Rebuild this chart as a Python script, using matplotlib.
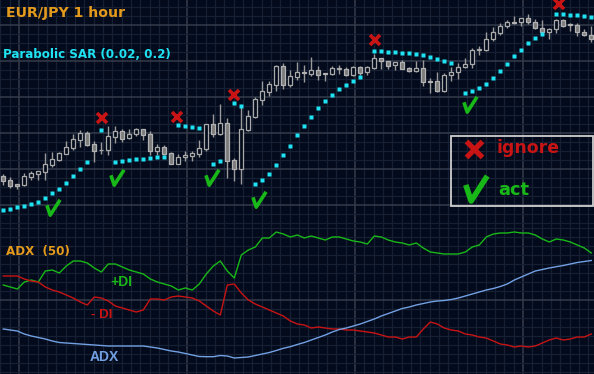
import numpy as np
import matplotlib
matplotlib.use('Agg')
import matplotlib.pyplot as plt
from matplotlib.patches import Rectangle
from matplotlib.lines import Line2D
from matplotlib.path import Path

# ---------------- data ----------------
opens = [133.24,133.20,133.16,133.15,133.23,133.26,133.28,133.35,133.40,133.46,
         133.52,133.60,133.67,133.56,133.50,133.50,133.63,133.69,133.62,133.66,
         133.71,133.66,133.49,133.53,133.47,133.36,133.43,133.44,133.46,133.51,
         133.76,133.66,133.77,133.40,133.31,133.70,133.83,134.00,134.08,134.15,
         134.34,134.15,134.23,134.28,134.26,134.30,134.27,134.26,134.31,134.31,
         134.25,134.33,134.28,134.32,134.42,134.39,134.35,134.38,134.32,134.29,
         134.32,134.19,134.19,134.09,134.25,134.28,134.33,134.36,134.50,134.50,
         134.61,134.67,134.74,134.78,134.78,134.82,134.78,134.72,134.68,134.71,
         134.80,134.76,134.75,134.68,134.65]
closes = [133.19,133.14,133.14,133.24,133.27,133.29,133.36,133.41,133.47,133.53,
          133.61,133.67,133.55,133.49,133.50,133.64,133.69,133.61,133.66,133.71,
          133.65,133.49,133.53,133.46,133.36,133.43,133.45,133.47,133.52,133.76,
          133.66,133.77,133.39,133.31,133.71,133.84,134.01,134.09,134.16,134.34,
          134.15,134.24,134.28,134.27,134.30,134.25,134.26,134.32,134.32,134.25,
          134.33,134.27,134.33,134.42,134.39,134.34,134.38,134.31,134.29,134.32,
          134.18,134.18,134.09,134.25,134.28,134.33,134.36,134.50,134.51,134.61,
          134.68,134.74,134.78,134.77,134.82,134.78,134.72,134.68,134.71,134.80,
          134.74,134.75,134.68,134.65,134.61]
highs = [133.26,133.23,133.16,133.27,133.29,133.29,133.47,133.48,133.48,133.59,
         133.66,133.70,133.69,133.59,133.58,133.74,133.74,133.71,133.71,133.72,
         133.71,133.69,133.56,133.55,133.48,133.46,133.49,133.49,133.60,133.76,
         133.86,133.96,133.82,133.42,133.95,133.90,134.03,134.19,134.19,134.35,
         134.37,134.30,134.38,134.35,134.43,134.34,134.27,134.34,134.35,134.33,
         134.34,134.34,134.34,134.46,134.42,134.39,134.38,134.40,134.33,134.39,
         134.40,134.22,134.28,134.27,134.33,134.37,134.42,134.52,134.54,134.68,
         134.73,134.77,134.80,134.84,134.82,134.86,134.81,134.80,134.72,134.81,
         134.81,134.77,134.77,134.71,134.74]
lows = [133.15,133.12,133.11,133.14,133.20,133.20,133.20,133.33,133.39,133.46,
        133.50,133.53,133.54,133.38,133.46,133.45,133.57,133.58,133.61,133.64,
        133.60,133.45,133.45,133.45,133.36,133.36,133.39,133.39,133.43,133.49,
        133.63,133.65,133.22,133.19,133.16,133.69,133.82,133.95,134.04,134.09,
        134.11,134.13,134.20,134.18,134.24,134.20,134.19,134.25,134.26,134.24,
        134.24,134.25,134.25,134.31,134.31,134.31,134.30,134.31,134.28,134.28,
        134.14,134.07,134.08,134.08,134.19,134.21,134.32,134.32,134.45,134.49,
        134.59,134.65,134.72,134.76,134.74,134.76,134.71,134.67,134.61,134.67,
        134.73,134.69,134.64,134.64,134.58]
nan = float('nan')
sar = [132.90,132.91,132.93,132.94,132.96,132.98,133.02,133.07,133.11,133.17,
       133.24,133.31,133.38,nan,133.70,nan,133.38,133.39,133.40,133.41,
       133.41,133.42,133.43,133.43,nan,133.75,133.74,133.73,133.72,nan,
       133.36,133.39,nan,133.97,133.94,nan,133.16,133.20,133.26,133.35,
       133.45,133.54,133.65,133.74,133.83,133.92,133.99,134.05,134.11,134.15,
       134.19,134.23,nan,134.49,134.49,134.48,134.48,134.47,134.47,134.46,
       134.45,134.43,134.41,134.39,134.37,nan,134.07,134.09,134.12,134.16,
       134.22,134.29,134.36,134.44,134.50,134.57,134.62,134.66,nan,134.86,
       134.86,134.85,134.85,134.84,134.83]

plus_di = [89,87,85,92,94,92,103,104,101,108,
           113,113,111,106,102,110,110,107,104,102,
           100,95,92,90,88,84,86,84,90,100,
           108,113,103,96,119,124,127,136,136,142,
           140,137,139,136,138,136,134,137,137,135,
           133,132,130,138,137,134,132,131,129,131,
           126,122,121,120,120,120,122,127,129,137,
           140,141,141,142,141,141,139,135,132,135,
           134,132,129,126,121]
minus_di = [98,98,98,95,93,92,87,84,82,79,
            76,72,69,77,76,73,68,66,64,62,
            64,75,75,74,77,78,77,76,73,68,
            63,59,89,90,81,74,70,67,64,61,
            58,53,50,49,46,47,46,45,45,44,
            44,43,42,41,39,37,37,35,37,37,
            45,52,50,46,44,43,40,39,37,36,
            33,30,29,27,28,27,28,31,34,36,
            34,35,37,37,40]
adx = [45,44,43,40,38,36.5,35,33,31.5,31,
       30.5,30,29.5,29,28.5,28,28,28,28,28,
       28,27,26,24.5,23,22,20.5,19,17.5,17.3,
       17.3,18.5,18,16,16.5,17,18.5,20,21.5,23.5,
       25.7,27.3,29.5,31.5,34,36.5,39,42,44.5,46,
       48,50,52.5,55,58,60.5,63,65.5,67,69,
       70.5,72,73,73.5,74.5,76,78,80,82,84,
       85.5,87.5,90,94,97,100,103,104.5,106,107.3,
       108.5,110,111.5,112.5,113.5]

ignore_idx = [14.1, 24.8, 33.0, 53.1, 79.4]
ignore_px = [133.82, 133.83, 134.05, 134.60, 134.96]
act_idx = [7.1, 16.3, 29.8, 36.5, 66.7]
act_px = [132.93, 133.23, 133.23, 133.01, 133.96]

# ---------------- style ----------------
W, H = 594, 374
BG = '#030a1b'
MINOR = '#162034'
MAJOR = '#343c4c'
ORANGE = '#e49a1c'
CYAN = '#1fe2f2'
GREEN = '#18b818'
RED = '#c81414'
BLUE = '#72a0e2'

fig = plt.figure(figsize=(W / 100, H / 100), dpi=100)
fig.patch.set_facecolor(BG)

split = 225  # pixel row where the panels meet
ax = fig.add_axes([0, 1 - split / H, 1, split / H])
ax2 = fig.add_axes([0, 0, 1, 1 - split / H])

xl = (-0.4714, 84.386)
n = len(opens)
idx = np.arange(n)


def style_grid(a, ymaj, ymin, ylim):
    a.set_facecolor(BG)
    xmaj = np.arange(2.243, 85, 24)
    xmin = np.arange(2.243 - 24, 85, 24 / 18)
    a.set_xticks(xmaj)
    a.set_xticks(xmin, minor=True)
    a.set_yticks(ymaj)
    a.set_yticks(ymin, minor=True)
    a.set_xlim(*xl)
    a.set_ylim(*ylim)
    a.grid(which='minor', color=MINOR, lw=0.9)
    a.grid(which='major', color=MAJOR, lw=1.1)
    a.tick_params(which='both', length=0, labelleft=False, labelbottom=False)
    for s in a.spines.values():
        s.set_visible(False)
    a.set_axisbelow(True)


# price panel
style_grid(ax, np.arange(134.75, 132.7, -0.36), np.arange(135.02, 132.7, -0.09),
           (132.75, 135.00))

for i in range(n):
    o, c, h, l = opens[i], closes[i], highs[i], lows[i]
    ax.vlines(i, l, h, color='#9a9a9a', lw=1.0, zorder=3)
    bottom = min(o, c)
    height = max(abs(c - o), 0.004)
    if c < o:
        fc, ec = '#7c7c7c', '#b2b2b2'
    else:
        fc, ec = BG, '#aaaaaa'
    ax.add_patch(Rectangle((i - 0.29, bottom), 0.58, height, facecolor=fc,
                           edgecolor=ec, lw=0.9, zorder=4))

ax.plot(idx, sar, ls='none', marker='s', ms=3.0, mec='none', mfc=CYAN, zorder=5)

check = Path([(-6, 2), (-3, -7), (6, 7)], [Path.MOVETO, Path.LINETO, Path.LINETO])
ax.plot(ignore_idx, ignore_px, ls='none', marker='x', ms=7.5, mew=2.6,
        color=RED, zorder=6)
ax.plot(act_idx, act_px, ls='none', marker=check, ms=11, mew=2.6,
        mfc='none', mec=GREEN, zorder=6)
ax.set_xlim(*xl)
ax.set_ylim(132.75, 135.00)

# ADX panel
style_grid(ax2, [74], np.arange(74 - 9 * 9, 160, 9), (0, H - split))
ax2.plot(idx, plus_di, color=GREEN, lw=1.0, zorder=3)
ax2.plot(idx, minus_di, color=RED, lw=1.0, zorder=3)
ax2.plot(idx, adx, color=BLUE, lw=1.0, zorder=3)
ax2.set_xlim(*xl)
ax2.set_ylim(0, H - split)


def fx(x):
    return x / W


def fy(y):
    return 1 - y / H


fig.text(fx(6), fy(13), 'EUR/JPY 1 hour', color=ORANGE, fontsize=10.2,
         fontweight='bold', family='DejaVu Sans', va='center', ha='left')
fig.text(fx(3), fy(54), 'Parabolic SAR (0.02, 0.2)', color=CYAN, fontsize=8.6,
         fontweight='bold', family='DejaVu Sans', va='center', ha='left')
fig.text(fx(6), fy(251), 'ADX  (50)', color=ORANGE, fontsize=8.6,
         fontweight='bold', family='DejaVu Sans', va='center', ha='left')
fig.text(fx(110), fy(282), '+DI', color=GREEN, fontsize=10,
         fontweight='bold', family='Liberation Sans', va='center', ha='left')
fig.text(fx(91), fy(315.5), '- DI', color=RED, fontsize=9.6,
         fontweight='bold', family='Liberation Sans', va='center', ha='left')
fig.text(fx(90), fy(357), 'ADX', color=BLUE, fontsize=10,
         fontweight='bold', family='Liberation Sans', va='center', ha='left')

# legend box
fig.add_artist(Rectangle((fx(451), fy(206)), (593 - 451) / W, 70 / H,
                         transform=fig.transFigure, fill=False,
                         ec='#cfcfcf', lw=1.3, zorder=10))
fig.add_artist(Line2D([fx(474)], [fy(149)], transform=fig.transFigure,
                      marker='x', ms=11, mew=3.8, color=RED, ls='none', zorder=11))
fig.add_artist(Line2D([fx(476)], [fy(188)], transform=fig.transFigure,
                      marker=check, ms=18, mew=4, mfc='none', mec=GREEN,
                      ls='none', zorder=11))
fig.text(fx(497), fy(148), 'ignore', color=RED, fontsize=12.4,
         fontweight='bold', family='DejaVu Sans', va='center', ha='left', zorder=11)
fig.text(fx(498), fy(190), 'act', color=GREEN, fontsize=12.8,
         fontweight='bold', family='DejaVu Sans', va='center', ha='left', zorder=11)

fig.savefig('out.png', dpi=100, facecolor=BG)
